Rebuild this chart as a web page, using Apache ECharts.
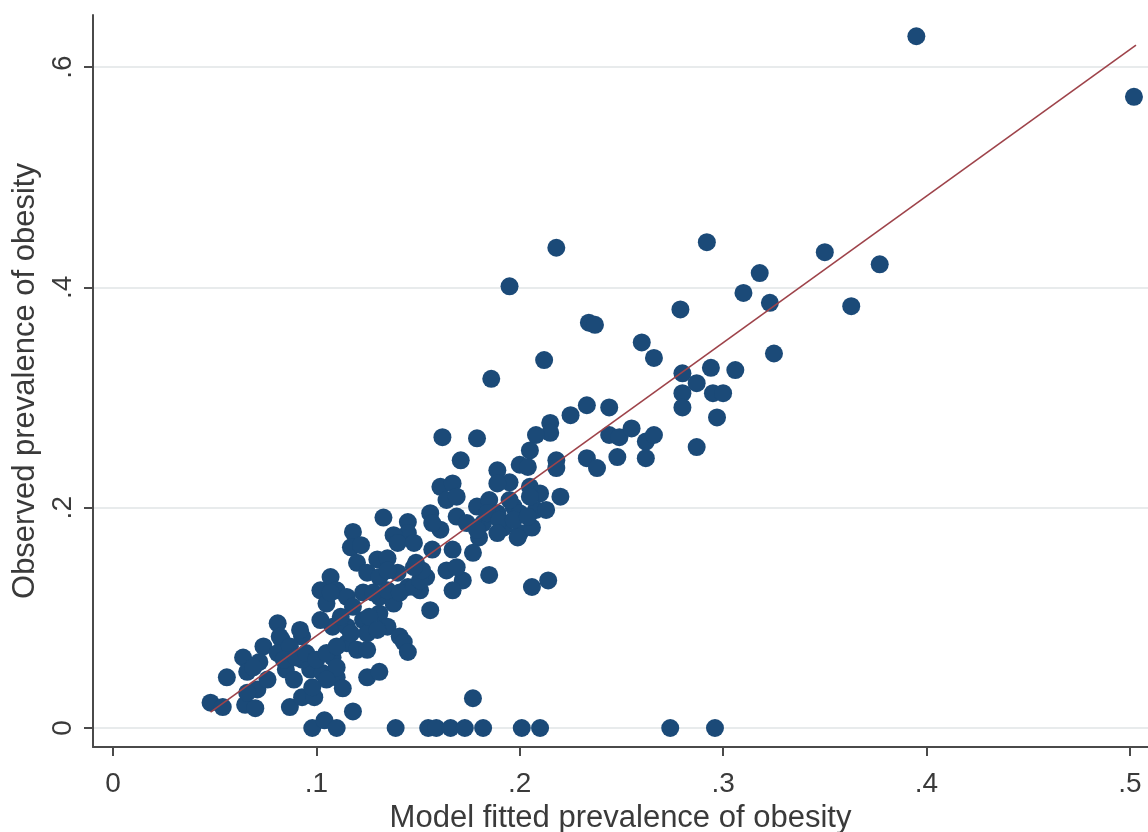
<!DOCTYPE html>
<html>
<head>
<meta charset="utf-8">
<script src="https://cdn.jsdelivr.net/npm/echarts@6/dist/echarts.min.js"></script>
<style>
  html, body { margin: 0; padding: 0; background: #ffffff; }
  #chart { width: 1148px; height: 832px; }
</style>
</head>
<body>
<div id="chart"></div>
<script>
// Model fitted vs observed prevalence of obesity, one point per area
const points = [
  [0.048,0.023],[0.054,0.019],[0.056,0.046],[0.064,0.064],[0.065,0.021],[0.070,0.018],
  [0.066,0.051],[0.074,0.074],[0.072,0.060],[0.071,0.035],[0.076,0.044],[0.083,0.080],
  [0.085,0.053],[0.087,0.068],[0.089,0.044],[0.087,0.019],[0.093,0.028],[0.099,0.028],
  [0.097,0.053],[0.093,0.062],[0.103,0.050],[0.108,0.064],[0.110,0.046],[0.113,0.036],
  [0.118,0.015],[0.115,0.077],[0.120,0.071],[0.125,0.071],[0.125,0.046],[0.131,0.051],
  [0.081,0.095],[0.108,0.092],
  [0.066,0.032],[0.069,0.055],[0.082,0.083],[0.081,0.068],[0.093,0.083],[0.087,0.074],
  [0.084,0.062],[0.090,0.064],[0.095,0.068],[0.100,0.062],[0.105,0.068],[0.110,0.074],
  [0.110,0.055],[0.105,0.044],[0.098,0.037],[0.115,0.092],[0.123,0.098],[0.131,0.104],
  [0.135,0.092],[0.125,0.086],
  [0.133,0.191],[0.145,0.187],[0.145,0.177],[0.118,0.178],[0.117,0.164],[0.122,0.166],
  [0.138,0.175],[0.140,0.168],[0.148,0.168],[0.130,0.153],[0.135,0.154],[0.120,0.150],
  [0.125,0.141],[0.131,0.137],[0.140,0.141],[0.149,0.150],[0.154,0.137],[0.145,0.128],
  [0.151,0.125],[0.107,0.137],[0.102,0.125],[0.110,0.125],[0.115,0.119],[0.105,0.113],
  [0.123,0.123],[0.131,0.119],[0.138,0.113],[0.118,0.110],[0.126,0.101],[0.112,0.101],
  [0.102,0.098],[0.092,0.089],[0.130,0.089],[0.141,0.083],[0.117,0.086],[0.164,0.143],
  [0.172,0.134],[0.167,0.125],[0.156,0.107],
  [0.135,0.143],[0.107,0.123],[0.128,0.123],[0.135,0.125],[0.141,0.123],[0.148,0.128],
  [0.151,0.134],[0.152,0.143],[0.148,0.146],[0.169,0.146],
  [0.162,0.264],[0.179,0.263],[0.171,0.243],[0.233,0.293],[0.244,0.291],[0.225,0.284],
  [0.215,0.277],[0.215,0.268],[0.208,0.266],[0.205,0.252],[0.189,0.234],[0.200,0.239],
  [0.204,0.237],[0.218,0.243],[0.218,0.236],[0.233,0.245],[0.238,0.236],[0.248,0.246],
  [0.195,0.223],[0.189,0.222],[0.205,0.219],[0.210,0.213],[0.220,0.210],[0.161,0.219],
  [0.167,0.222],[0.164,0.207],[0.169,0.210],[0.156,0.195],[0.169,0.192],[0.179,0.201],
  [0.185,0.207],[0.189,0.195],[0.197,0.201],[0.200,0.195],[0.208,0.198],[0.213,0.198],
  [0.182,0.186],[0.192,0.182],[0.200,0.177],[0.206,0.182],[0.180,0.173],[0.161,0.180],
  [0.157,0.162],[0.167,0.162],[0.177,0.159],
  [0.184,0.195],[0.195,0.207],[0.205,0.210],[0.174,0.186],[0.179,0.180],[0.190,0.189],
  [0.197,0.189],[0.204,0.192],[0.189,0.177],[0.199,0.173],[0.157,0.186],
  [0.260,0.350],[0.266,0.336],[0.325,0.340],[0.280,0.322],[0.294,0.327],[0.306,0.325],
  [0.287,0.313],[0.280,0.304],[0.280,0.291],[0.295,0.304],[0.300,0.304],[0.297,0.282],
  [0.287,0.255],[0.244,0.266],[0.249,0.264],[0.255,0.272],[0.262,0.260],[0.266,0.266],
  [0.262,0.245],
  [0.185,0.139],[0.206,0.128],[0.214,0.134],[0.143,0.078],[0.145,0.069],[0.177,0.027],
  [0.395,0.628],[0.502,0.573],[0.350,0.432],[0.377,0.421],[0.363,0.383],[0.323,0.386],
  [0.318,0.413],[0.310,0.395],[0.292,0.441],[0.218,0.436],[0.195,0.401],[0.279,0.380],
  [0.234,0.368],[0.237,0.366],[0.212,0.334],[0.186,0.317],
  [0.098,0],[0.104,0.007],[0.110,0],[0.139,0],[0.155,0],[0.159,0],[0.166,0],[0.173,0],
  [0.182,0],[0.201,0],[0.210,0],[0.274,0],[0.296,0]
];

// Linear fit across the range of fitted values
const fitLine = [[0.048, 0.0145], [0.503, 0.620]];

const xTicks = [0, 0.1, 0.2, 0.3, 0.4, 0.5];
const yTicks = [0, 0.2, 0.4, 0.6];
const xTitle = 'Model fitted prevalence of obesity';
const yTitle = 'Observed prevalence of obesity';

const font = '"Liberation Sans", Arial, Helvetica, sans-serif';
const axisColor = '#4a4a4a';
const textColor = '#3a3a3a';

// Stata-style tick text: 0.2 -> ".2"
const fmt = v => (v === 0 ? '0' : String(+v.toFixed(2)).replace(/^0\./, '.'));

const chart = echarts.init(document.getElementById('chart'), null, { renderer: 'canvas' });

chart.setOption({
  backgroundColor: '#ffffff',
  animation: false,
  grid: { left: 93, right: 0, top: 15, bottom: 85, containLabel: false, outerBoundsMode: 'none' },
  xAxis: {
    type: 'value',
    min: -0.0098,
    max: 0.5089,
    name: xTitle,
    nameLocation: 'middle',
    nameGap: 52,
    nameTextStyle: { fontFamily: font, fontSize: 31, color: textColor },
    axisLine: { show: true, onZero: false, lineStyle: { color: axisColor, width: 2 } },
    axisTick: { show: true, length: 9, customValues: xTicks, lineStyle: { color: axisColor, width: 2 } },
    axisLabel: {
      customValues: xTicks, formatter: fmt, margin: 23,
      fontFamily: font, fontSize: 28, color: textColor
    },
    splitLine: { show: false }
  },
  yAxis: {
    type: 'value',
    min: -0.01725,
    max: 0.6473,
    name: yTitle,
    nameLocation: 'middle',
    nameRotate: 90,
    nameGap: 48,
    nameTextStyle: { fontFamily: font, fontSize: 31, color: textColor },
    axisLine: { show: true, onZero: false, lineStyle: { color: axisColor, width: 2 } },
    axisTick: { show: true, length: 9, customValues: yTicks, lineStyle: { color: axisColor, width: 2 } },
    axisLabel: {
      customValues: yTicks, formatter: fmt, rotate: 90, margin: 16,
      fontFamily: font, fontSize: 28, color: textColor
    },
    splitLine: { show: true, lineStyle: { color: '#e8ebec', width: 2 } }
  },
  series: [
    {
      type: 'scatter',
      data: points,
      symbol: 'circle',
      symbolSize: 18,
      itemStyle: { color: '#1b4a78', opacity: 1 },
      z: 2
    },
    {
      type: 'line',
      data: fitLine,
      symbol: 'none',
      lineStyle: { color: '#9e434a', width: 1.6 },
      z: 3
    }
  ]
});
</script>
</body>
</html>
